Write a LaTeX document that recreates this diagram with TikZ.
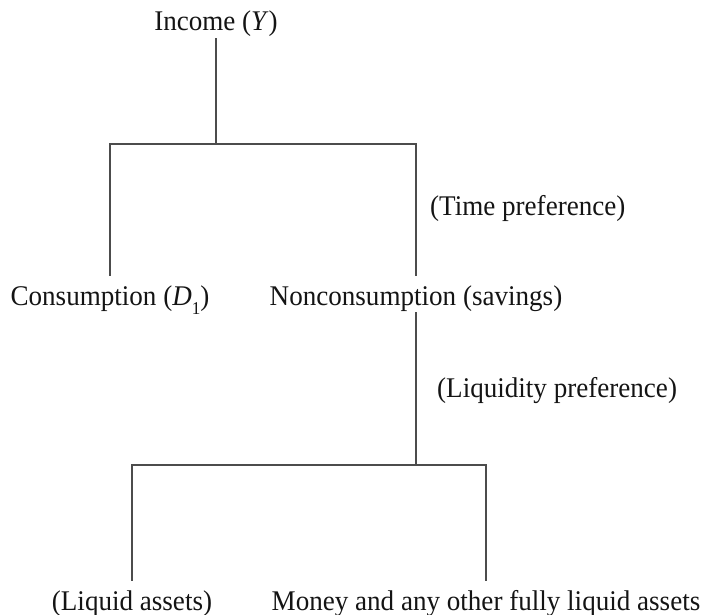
\documentclass[tikz,border=0pt]{standalone}
\usepackage{fontspec}
\setmainfont[FakeStretch=0.95]{Liberation Serif}
\newcommand{\lowsub}[1]{\raisebox{-0.32em}{\fontsize{18}{20}\selectfont #1}}
\begin{document}
\begin{tikzpicture}[x=1pt,y=-1pt,
  lbl/.style={font=\fontsize{28.5}{32}\selectfont, text=black!92, inner sep=3pt,
    text height=26pt, text depth=4pt, anchor=base},
  conn/.style={draw=black!70, line width=1.4pt}]
\useasboundingbox (0,0) rectangle (702,615);
\node[lbl] (inc) at (216,31) {Income (\textit{Y})};
\node[lbl] (cons) at (110,305) {Consumption (\textit{D}\lowsub{1})};
\node[lbl] (non) at (416,305) {Nonconsumption (savings)};
\node[lbl, anchor=base west] (tp) at (427,215) {(Time preference)};
\node[lbl, anchor=base west] (lp) at (434,397) {(Liquidity preference)};
\node[lbl] (liq) at (132,610) {(Liquid assets)};
\node[lbl] (mon) at (486,610) {Money and any other fully liquid assets};
\coordinate (j1) at (216,144);
\coordinate (j2) at (416,465);
\draw[conn] (inc.south) -- (j1);
\draw[conn] (cons.north) |- (j1) -| (non.north);
\draw[conn] (non.south) -- (j2);
\draw[conn] (liq.north) |- (j2) -| (mon.north);
\end{tikzpicture}
\end{document}
